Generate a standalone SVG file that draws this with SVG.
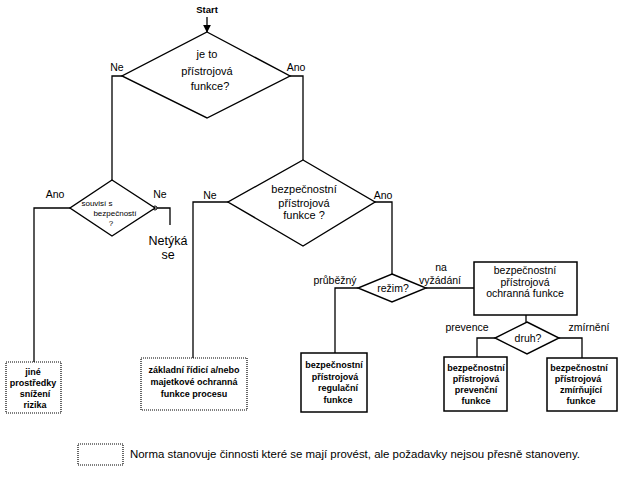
<svg xmlns="http://www.w3.org/2000/svg" width="623" height="479" viewBox="0 0 623 479">
<style>
text{font-family:"Liberation Sans",Arial,sans-serif;fill:#000;text-anchor:middle}
.lbl{font-size:10.5px}
.dt{font-size:11px}
.bx{font-size:9px;font-weight:bold}
.shape{fill:#fff;stroke:#000;stroke-width:1.4}
.box{fill:#fff;stroke:#000;stroke-width:1.5}
.dot{fill:#fff;stroke:#000;stroke-width:1.2;stroke-dasharray:1 1}
.ln{fill:none;stroke:#000;stroke-width:1.3}
</style>
<defs>
<marker id="arr" viewBox="0 0 10 10" refX="9" refY="5" markerWidth="8" markerHeight="8" orient="auto" markerUnits="userSpaceOnUse">
<path d="M0,0 L10,5 L0,10 z" fill="#000"/>
</marker>
</defs>
<rect width="623" height="479" fill="#fff"/>
<g id="connectors">
<line class="ln" x1="207" y1="17" x2="207" y2="32" marker-end="url(#arr)"/>
<polyline class="ln" points="122,76 112,76 112,180"/>
<polyline class="ln" points="290,76 303,76 303,160"/>
<polyline class="ln" points="70,208 34,208 34,362"/>
<polyline class="ln" points="155,208 170,208 170,225"/>
<circle cx="155" cy="208" r="2" fill="#fff" stroke="#000" stroke-width="1"/>
<polyline class="ln" points="228,202 193,202 193,358"/>
<polyline class="ln" points="375,202 392,202 392,274"/>
<polyline class="ln" points="358,288 335,288 335,353"/>
<line class="ln" x1="426" y1="288" x2="474" y2="288"/>
<line class="ln" x1="526" y1="315" x2="526" y2="322"/>
<polyline class="ln" points="495,338 477,338 477,357"/>
<polyline class="ln" points="559,338 582,338 582,358"/>
</g>
<g id="start"><text class="lbl" x="207" y="13" font-weight="bold" style="font-size:9.5px">Start</text></g>
<g id="d1">
<polygon class="shape" points="207,32 290,76 207,118 122,76"/>
<text class="dt" x="207" y="58">je to</text>
<text class="dt" x="207" y="75">přístrojová</text>
<text class="dt" x="210" y="90">funkce?</text>
<text class="lbl" x="117" y="71">Ne</text>
<text class="lbl" x="296" y="71">Ano</text>
</g>
<g id="d2">
<polygon class="shape" points="112,180 155,208 112,236 70,208"/>
<text x="97" y="206" style="font-size:8px">souvisí s</text>
<text x="115" y="216" style="font-size:8px">bezpečností</text>
<text x="111" y="226" style="font-size:8px">?</text>
<text class="lbl" x="55" y="198">Ano</text>
<text class="lbl" x="160" y="198">Ne</text>
<text x="168" y="245" style="font-size:12.5px">Netýká</text>
<text x="168" y="259" style="font-size:12.5px">se</text>
</g>
<g id="d3">
<polygon class="shape" points="303,160 375,202 303,246 228,202"/>
<text class="dt" x="304" y="193">bezpečnostní</text>
<text class="dt" x="304" y="207">přístrojová</text>
<text class="dt" x="304" y="219">funkce ?</text>
<text class="lbl" x="210" y="199">Ne</text>
<text class="lbl" x="383" y="199">Ano</text>
</g>
<g id="d4">
<polygon class="shape" points="392,274 426,288 392,302 358,288"/>
<text class="lbl" x="393" y="292">režim?</text>
<text class="lbl" x="335" y="284">průběžný</text>
<text class="lbl" x="441" y="271">na</text>
<text class="lbl" x="440" y="284">vyžádání</text>
</g>
<g id="ochranna">
<rect class="box" x="474" y="262" width="103" height="53"/>
<text class="lbl" x="525" y="274">bezpečnostní</text>
<text class="lbl" x="525" y="286">přístrojová</text>
<text class="lbl" x="525" y="297">ochranná funkce</text>
</g>
<g id="d5">
<polygon class="shape" points="527,322 559,338 527,354 495,338"/>
<text class="lbl" x="528" y="342">druh?</text>
<text class="lbl" x="467" y="331">prevence</text>
<text class="lbl" x="589" y="331">zmírnění</text>
</g>
<g id="jine">
<rect class="dot" x="6" y="362" width="55" height="51"/>
<text class="bx" x="33" y="375">jiné</text>
<text class="bx" x="33" y="386">prostředky</text>
<text class="bx" x="35" y="397">snížení</text>
<text class="bx" x="35" y="408">rizika</text>
</g>
<g id="zakladni">
<rect class="dot" x="141" y="358" width="106" height="52"/>
<text class="bx" x="194" y="373">základní řídicí a/nebo</text>
<text class="bx" x="194" y="385">majetkové ochranná</text>
<text class="bx" x="194" y="397">funkce procesu</text>
</g>
<g id="regulacni">
<rect class="box" x="301" y="353" width="66" height="59"/>
<text class="bx" x="334" y="368">bezpečnostní</text>
<text class="bx" x="335" y="380">přístrojová</text>
<text class="bx" x="338" y="391">regulační</text>
<text class="bx" x="338" y="403">funkce</text>
</g>
<g id="prevencni">
<rect class="box" x="444" y="357" width="63" height="54"/>
<text class="bx" x="476" y="371">bezpečnostní</text>
<text class="bx" x="476" y="382">přístrojová</text>
<text class="bx" x="476" y="393">prevenční</text>
<text class="bx" x="476" y="404">funkce</text>
</g>
<g id="zmirnujici">
<rect class="box" x="547" y="358" width="70" height="53"/>
<text class="bx" x="579" y="371">bezpečnostní</text>
<text class="bx" x="578" y="382">přístrojová</text>
<text class="bx" x="581" y="393">zmírňující</text>
<text class="bx" x="581" y="404">funkce</text>
</g>
<g id="legend">
<rect class="dot" x="78" y="444" width="45" height="21"/>
<text x="130" y="458" textLength="450" lengthAdjust="spacingAndGlyphs" style="font-size:10.8px;text-anchor:start">Norma stanovuje činnosti které se mají provést, ale požadavky nejsou přesně stanoveny.</text>
</g>
</svg>
